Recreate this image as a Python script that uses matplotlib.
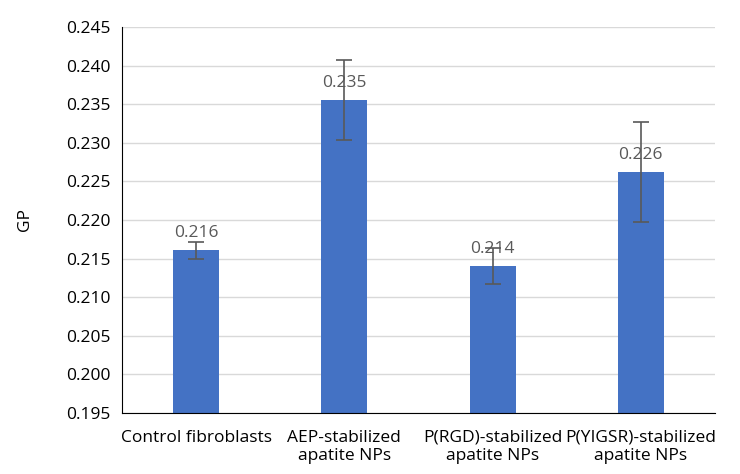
import numpy as np
import matplotlib.pyplot as plt

plt.rcParams['font.family'] = ['Open Sans', 'DejaVu Sans']

# data
groups = ['Control fibroblasts', 'AEP-stabilized\napatite NPs',
          'P(RGD)-stabilized\napatite NPs', 'P(YIGSR)-stabilized\napatite NPs']
gp = [0.2161, 0.2355, 0.2140, 0.2262]
err = [0.0011, 0.0052, 0.0023, 0.0065]
labels = ['0.216', '0.235', '0.214', '0.226']

fig = plt.figure(figsize=(7.4, 4.74), dpi=100)
ax = fig.add_axes([0.165, 0.129, 0.801, 0.814])

x = np.arange(len(groups))
ax.bar(x, gp, width=0.31, color='#4472C4', zorder=2)
ax.errorbar(x, gp, yerr=err, fmt='none', ecolor='#595959', elinewidth=1.2,
            capsize=6, capthick=1.2, zorder=3)

for xi, v, t in zip(x, gp, labels):
    ax.text(xi, v + 0.0012, t, ha='center', va='bottom', color='#595959', fontsize=12.5)

ax.set_ylim(0.195, 0.245)
ax.set_xlim(-0.5, 3.5)
ax.set_yticks(np.arange(0.195, 0.2451, 0.005))
ax.yaxis.set_major_formatter(plt.FormatStrFormatter('%.3f'))
ax.set_xticks(x)
ax.set_xticklabels(groups)
ax.tick_params(axis='both', length=0, labelsize=12.5, colors='black')
ax.tick_params(axis='x', pad=12)
ax.tick_params(axis='y', pad=8)
ax.yaxis.grid(True, color='#D9D9D9', linewidth=1, zorder=0)
ax.set_axisbelow(True)
for s in ['top', 'right']:
    ax.spines[s].set_visible(False)
ax.spines['left'].set_color('black')
ax.spines['bottom'].set_color('black')
ax.set_ylabel('GP', fontsize=12.5, labelpad=24)

plt.savefig('out.png')
